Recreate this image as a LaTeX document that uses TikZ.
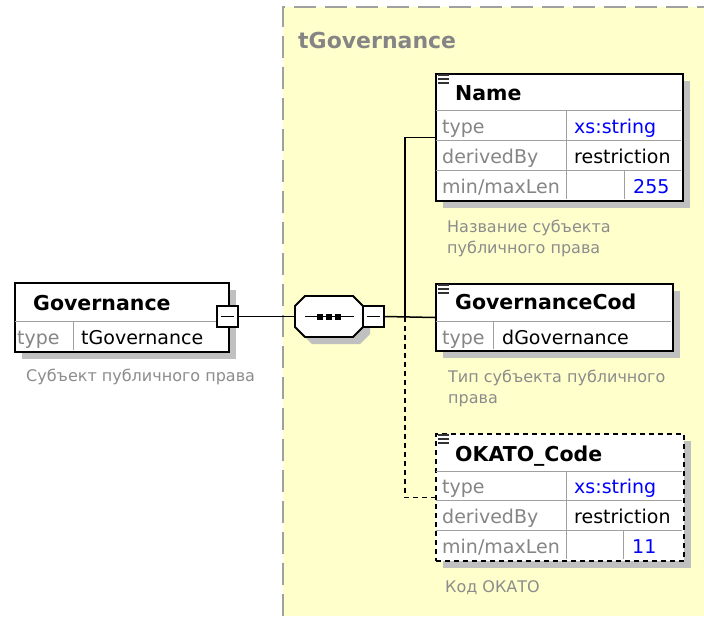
\documentclass[tikz,border=0pt]{standalone}
\usepackage{fontspec}
\setmainfont{DejaVu Sans}
\usetikzlibrary{positioning,shadows}

\definecolor{paleyellow}{HTML}{FFFFCC}
\definecolor{framegray}{HTML}{A0A0A0}
\definecolor{cellgray}{HTML}{A0A0A0}
\definecolor{labelgray}{HTML}{858585}
\definecolor{docgray}{HTML}{8C8C8C}
\definecolor{shadowgray}{HTML}{C0C0C0}
\definecolor{valblue}{HTML}{0000FF}

\begin{document}
\begin{tikzpicture}[
    x=1pt, y=-1pt,
    boxshadow/.style={drop shadow={shadow xshift=7pt, shadow yshift=-7pt, fill=shadowgray, opacity=1}},
    elem/.style={rectangle, draw, line width=2pt, fill=white, anchor=north west, inner sep=0pt, boxshadow},
    cellline/.style={draw=cellgray, line width=1pt},
    title/.style={anchor=base west, inner sep=0pt, font=\fontsize{20.5}{24}\selectfont\bfseries},
    lbl/.style={anchor=base west, inner sep=0pt, font=\fontsize{19}{22}\selectfont, text=labelgray},
    val/.style={anchor=base west, inner sep=0pt, font=\fontsize{19}{22}\selectfont},
    doc/.style={anchor=base west, inner sep=0pt, align=left, font=\fontsize{16}{21}\selectfont, text=docgray},
    minusbox/.style={rectangle, draw, line width=1.6pt, fill=white, minimum size=21pt, inner sep=0pt,
        path picture={\draw[line width=1.4pt] ([xshift=4pt]path picture bounding box.west) -- ([xshift=-4pt]path picture bounding box.east);}},
    seqbox/.style={rectangle, minimum width=68pt, minimum height=41pt, inner sep=0pt},
    wire/.style={line width=1.5pt},
    icon/.style={line width=1.3pt, black!80}
]
\useasboundingbox (0,0) rectangle (704,616);
\fill[white] (0,0) rectangle (704,616);

% complex type area
\fill[paleyellow] (283,7) rectangle (704,616);
\draw[framegray, line width=1.5pt, dash pattern=on 22pt off 9pt] (283,616) -- (283,7) -- (704,7);
\node[anchor=base west, inner sep=0pt, font=\fontsize{22}{26}\selectfont\bfseries, text=labelgray] (typename) at (298,48) {tGovernance};

% root element
\node[elem, minimum width=214pt, minimum height=69pt] (gov) at (14,282) {};
\draw[cellline] (15,321) -- (227,321);
\draw[cellline] (73,321) -- (73,350);
\node[title] (govtitle) at (33,310) {Governance};
\node[lbl] (govtype) at (17,344) {type};
\node[val] (govtypeval) at (81,344) {tGovernance};
\node[minusbox] (govminus) at (227.5,316.5) {};
\node[doc] (govdoc) at (26,381.5) {Субъект публичного права};

% sequence compositor
\node[seqbox] (seq) at (329,316.5) {};
\fill[shadowgray] (312,303) -- (360,303) -- (370,313) -- (370,334) -- (360,344) -- (312,344) -- (302,334) -- (302,313) -- cycle;
\filldraw[fill=white, line width=1.8pt] (305,296) -- (353,296) -- (363,306) -- (363,327) -- (353,337) -- (305,337) -- (295,327) -- (295,306) -- cycle;
\draw[line width=1.4pt] (305,316.5) -- (354,316.5);
\foreach \sx in {320,329,338}
    \fill (\sx-3,313.5) rectangle (\sx+3,319.5);
\node[minusbox] (seqminus) at (373.5,316.5) {};
\coordinate (fork) at (405,316.5);

% Name
\node[elem, minimum width=247pt, minimum height=127pt] (name) at (435,73) {};
\foreach \ry in {110,140,170}
    \draw[cellline] (436,\ry) -- (681,\ry);
\draw[cellline] (566,110) -- (566,199);
\draw[cellline] (624,170) -- (624,199);
\foreach \iy in {75,79,83}
    \draw[icon] (438,\iy) -- (449,\iy);
\node[title] (nametitle) at (455,100) {Name};
\node[lbl] (nametype) at (442,133) {type};
\node[val, text=valblue] (nametypeval) at (574,133) {xs:string};
\node[lbl] (namederiv) at (442,163) {derivedBy};
\node[val] (namederivval) at (574,163) {restriction};
\node[lbl] (namelen) at (442,193) {min/maxLen};
\node[val, text=valblue] (namelenval) at (633,193) {255};
\node[doc] (namedoc) at (447,253) {Название субъекта\\публичного права};

% GovernanceCod
\node[elem, minimum width=237pt, minimum height=67pt] (gcod) at (435,283) {};
\draw[cellline] (436,321) -- (671,321);
\draw[cellline] (493,321) -- (493,349);
\foreach \iy in {285,289,293}
    \draw[icon] (438,\iy) -- (449,\iy);
\node[title] (gcodtitle) at (455,309) {GovernanceCod};
\node[lbl] (gcodtype) at (442,344) {type};
\node[val] (gcodtypeval) at (502,344) {dGovernance};
\node[doc] (gcoddoc) at (448,403) {Тип субъекта публичного\\права};

% OKATO_Code (optional)
\node[elem, dashed, dash pattern=on 5pt off 4pt, minimum width=248pt, minimum height=127pt] (okato) at (435,433) {};
\foreach \ry in {471,500,530}
    \draw[cellline] (436,\ry) -- (682,\ry);
\draw[cellline] (566,471) -- (566,559);
\draw[cellline] (623,530) -- (623,559);
\foreach \iy in {435,439,443}
    \draw[icon] (438,\iy) -- (449,\iy);
\node[title] (okatotitle) at (455,461) {OKATO\_Code};
\node[lbl] (okatotype) at (442,493) {type};
\node[val, text=valblue] (okatotypeval) at (574,493) {xs:string};
\node[lbl] (okatoderiv) at (442,523) {derivedBy};
\node[val] (okatoderivval) at (574,523) {restriction};
\node[lbl] (okatolen) at (442,553) {min/maxLen};
\node[val, text=valblue] (okatolenval) at (632,553) {11};
\node[doc] (okatodoc) at (445,592) {Код ОКАТО};

% connectors
\draw[wire] (govminus.east) -- (seq.west);
\draw[wire] (seqminus.east) -- (gcod.west);
\draw[wire] (fork) |- (name.west);
\draw[wire, dash pattern=on 5pt off 4pt] (fork) |- (okato.west);

\end{tikzpicture}
\end{document}
